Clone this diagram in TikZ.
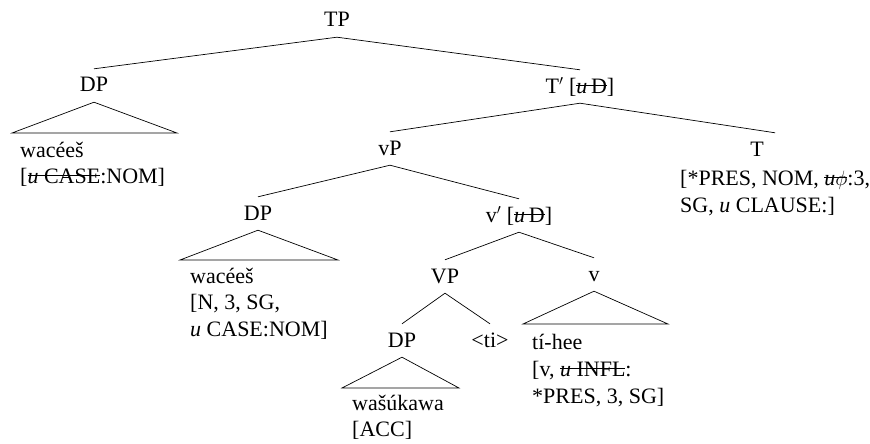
\documentclass[tikz,border=0pt]{standalone}
\usepackage{fontspec}
\setmainfont{Liberation Serif}
\newcommand\strk[1]{\setbox0\hbox{#1}\rlap{\rule[0.3em]{\wd0}{0.055em}}\box0}
\begin{document}
\begin{tikzpicture}[x=1pt,y=-1pt,
  every node/.style={font=\fontsize{22}{27}\selectfont},
  lab/.style={inner xsep=1pt, inner ysep=5pt, text height=18pt, text depth=5pt, anchor=base},
  blk/.style={inner sep=0pt, anchor=base west},
  edge/.style={line width=0.7pt}]
\useasboundingbox (0,0) rectangle (870,444);
% labels
\node[lab] (TP) at (337,27) {TP};
\node[lab] (DP1) at (94,92) {DP};
\node[lab] (Tb) at (580,93) {T$'$ [\strk{\textit{u}\,D}]};
\node[lab] (vP) at (390,155) {vP};
\node[lab] (T) at (757,156) {T};
\node[lab] (DP2) at (258,220) {DP};
\node[lab] (vb) at (519,222) {v$'$ [\strk{\textit{u}\,D}]};
\node[lab] (VP) at (445,283) {VP};
\node[lab] (v) at (594,281) {v};
\node[lab] (DP3) at (402,347) {DP};
\node[lab] (ti) at (490,347) {<ti>};
% text blocks
\node[blk] (Tf1) at (680,185) {[*PRES, NOM, \strk{\textit{u}$\phi$}:3,};
\node[blk] (Tf2) at (680,212) {SG, \textit{u} CLAUSE:]};
\node[blk] (w1a) at (20,157) {wacéeš};
\node[blk] (w1b) at (20,183) {[\strk{\textit{u} CASE}:NOM]};
\node[blk] (w2a) at (190,283) {wacéeš};
\node[blk] (w2b) at (190,309) {[N, 3, SG,};
\node[blk] (w2c) at (190,336) {\textit{u} CASE:NOM]};
\node[blk] (w3a) at (352,410) {wašúkawa};
\node[blk] (w3b) at (352,436) {[ACC]};
\node[blk] (w4a) at (532,349) {tí-hee};
\node[blk] (w4b) at (532,376) {[v, \strk{\textit{u} INFL}:};
\node[blk] (w4c) at (532,403) {*PRES, 3, SG]};
% triangle corners
\coordinate (t1l) at (12,133);  \coordinate (t1r) at (177,133);
\coordinate (t2l) at (180,260); \coordinate (t2r) at (338,260);
\coordinate (t3l) at (342,388); \coordinate (t3r) at (459,388);
\coordinate (t4l) at (523,324); \coordinate (t4r) at (668,324);
% edges
\draw[edge] (TP.south) -- (DP1.north);
\draw[edge] (TP.south) -- (Tb.north);
\draw[edge] (Tb.south) -- (vP.north);
\draw[edge] (Tb.south) -- (Tf1.center |- T.north);
\draw[edge] (vP.south) -- (DP2.north);
\draw[edge] (vP.south) -- (vb.north);
\draw[edge] (vb.south) -- (VP.north);
\draw[edge] (vb.south) -- (v.north);
\draw[edge] (VP.south) -- (DP3.north);
\draw[edge] (VP.south) -- (ti.north);
% roofs
\draw[edge] (DP1.south) -- (t1l) -- (t1r) -- cycle;
\draw[edge] (DP2.south) -- (t2l) -- (t2r) -- cycle;
\draw[edge] (DP3.south) -- (t3l) -- (t3r) -- cycle;
\draw[edge] (v.south) -- (t4l) -- (t4r) -- cycle;
\end{tikzpicture}
\end{document}
